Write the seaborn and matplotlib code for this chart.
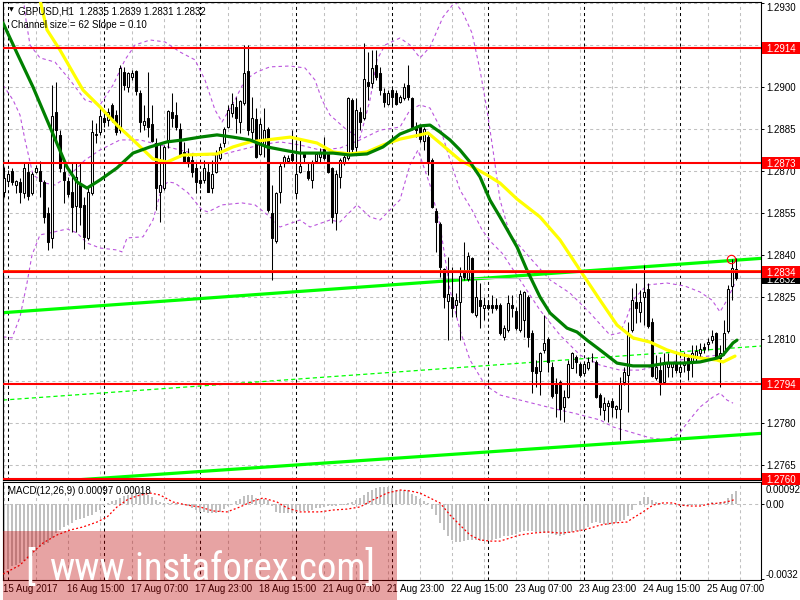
import numpy as np
import matplotlib
matplotlib.use("Agg")
import matplotlib.pyplot as plt
import seaborn as sns
from matplotlib.patches import Rectangle
from matplotlib import font_manager

# ---------------- data ----------------
opens = [
1.28627,1.28666,1.28700,1.28651,1.28661,1.28621,1.28699,1.28621,1.28699,1.28700,
1.28661,1.28550,1.28461,1.28911,1.28830,1.28699,1.28666,1.28627,1.28577,1.28651,
1.28579,1.28461,1.28621,1.28830,1.28839,1.28889,1.28883,1.28937,1.28901,1.28847,
1.29056,1.29002,1.29038,1.29057,1.28978,1.28865,1.28889,1.28868,1.28800,1.28627,
1.28639,1.28812,1.28913,1.28901,1.28850,1.28768,1.28752,1.28741,1.28711,1.28669,
1.28669,1.28699,1.28639,1.28699,1.28746,1.28800,1.28859,1.28909,1.28928,1.28877,
1.28943,1.29059,1.28842,1.28886,1.28762,1.28794,1.28851,1.28552,1.28451,1.28627,
1.28728,1.28738,1.28762,1.28621,1.28699,1.28762,1.28701,1.28669,1.28738,1.28752,
1.28780,1.28762,1.28711,1.28550,1.28680,1.28728,1.28746,1.28955,1.28788,1.28913,
1.28889,1.29020,1.29016,1.29080,1.29050,1.28981,1.28940,1.28990,1.28978,1.28949,
1.28960,1.29008,1.28960,1.28859,1.28862,1.28809,1.28824,1.28740,1.28559,1.28512,
1.28350,1.28238,1.28250,1.28223,1.28232,1.28345,1.28314,1.28389,1.28187,1.28240,
1.28210,1.28223,1.28223,1.28223,1.28223,1.28109,1.28133,1.28223,1.28202,1.28133,
1.28169,1.28250,1.28121,1.28002,1.27988,1.28060,1.28101,1.28002,1.27943,1.27949,
1.27859,1.27895,1.27999,1.28038,1.28012,1.27981,1.27999,1.28036,1.28020,1.27901,
1.27848,1.27862,1.27881,1.27850,1.27850,1.27949,1.27972,1.28133,1.28234,1.28199,
1.28252,1.28278,1.28163,1.27961,1.27991,1.27949,1.28002,1.28002,1.28014,1.27984,
1.28008,1.28032,1.28020,1.28040,1.28050,1.28071,1.28083,1.28098,1.28121,1.28032,
1.28056,1.28131,1.28290,1.28350]
highs = [
1.28716,1.28705,1.28711,1.28670,1.28675,1.28729,1.28729,1.28699,1.28722,1.28735,
1.28669,1.28573,1.29008,1.29020,1.28847,1.28729,1.28681,1.28729,1.28729,1.28729,
1.28609,1.28639,1.28883,1.28871,1.28925,1.28907,1.28925,1.28943,1.28919,1.29080,
1.29074,1.29056,1.29062,1.29062,1.28990,1.28937,1.29056,1.28937,1.28818,1.28800,
1.28794,1.28919,1.28978,1.28949,1.28871,1.28806,1.28782,1.28764,1.28728,1.28693,
1.28740,1.28728,1.28740,1.28776,1.28800,1.28859,1.28937,1.28978,1.28967,1.28954,
1.29151,1.29151,1.28967,1.28925,1.28889,1.28925,1.28859,1.28651,1.28625,1.28728,
1.28758,1.28758,1.28847,1.28812,1.28812,1.28770,1.28734,1.28740,1.28770,1.28782,
1.28822,1.28770,1.28716,1.28705,1.28746,1.28758,1.28967,1.28961,1.28961,1.28931,
1.29157,1.29127,1.29133,1.29133,1.29074,1.28996,1.28990,1.28996,1.28990,1.28972,
1.29014,1.29080,1.28967,1.28877,1.28869,1.28859,1.28836,1.28746,1.28568,1.28520,
1.28353,1.28395,1.28359,1.28264,1.28359,1.28449,1.28413,1.28393,1.28312,1.28300,
1.28252,1.28240,1.28258,1.28246,1.28229,1.28151,1.28258,1.28258,1.28214,1.28276,
1.28274,1.28258,1.28133,1.28026,1.28056,1.28187,1.28109,1.28020,1.27961,1.27955,
1.27919,1.28026,1.28056,1.28044,1.28020,1.28020,1.28038,1.28050,1.28026,1.27907,
1.27895,1.27883,1.27889,1.27865,1.27967,1.28002,1.28163,1.28282,1.28300,1.28276,
1.28365,1.28300,1.28175,1.28044,1.28038,1.28050,1.28050,1.28020,1.28050,1.28014,
1.28056,1.28044,1.28080,1.28080,1.28086,1.28086,1.28103,1.28133,1.28127,1.28080,
1.28169,1.28294,1.28385,1.28390]
lows = [
1.28609,1.28651,1.28651,1.28621,1.28586,1.28604,1.28597,1.28615,1.28695,1.28609,
1.28514,1.28419,1.28425,1.28806,1.28699,1.28588,1.28609,1.28484,1.28484,1.28508,
1.28421,1.28455,1.28615,1.28800,1.28830,1.28859,1.28860,1.28877,1.28830,1.28836,
1.28990,1.28984,1.29026,1.28972,1.28841,1.28847,1.28824,1.28806,1.28562,1.28520,
1.28633,1.28782,1.28859,1.28847,1.28752,1.28728,1.28716,1.28681,1.28621,1.28639,
1.28657,1.28625,1.28621,1.28693,1.28740,1.28788,1.28853,1.28895,1.28836,1.28836,
1.28937,1.28830,1.28812,1.28746,1.28758,1.28752,1.28556,1.28312,1.28445,1.28586,
1.28716,1.28728,1.28728,1.28609,1.28693,1.28734,1.28669,1.28639,1.28728,1.28734,
1.28740,1.28693,1.28514,1.28490,1.28639,1.28722,1.28740,1.28770,1.28770,1.28847,
1.28883,1.28955,1.28996,1.29026,1.28972,1.28931,1.28937,1.28937,1.28937,1.28943,
1.28955,1.28955,1.28847,1.28824,1.28806,1.28776,1.28687,1.28568,1.28413,1.28324,
1.28210,1.28097,1.28181,1.28181,1.28097,1.28312,1.28309,1.28193,1.28181,1.28139,
1.28169,1.28205,1.28193,1.28205,1.28115,1.28097,1.28127,1.28181,1.28133,1.28127,
1.28109,1.28074,1.27909,1.27931,1.27901,1.28050,1.27984,1.27889,1.27824,1.27812,
1.27806,1.27889,1.27996,1.27978,1.27967,1.27978,1.27990,1.28020,1.27889,1.27830,
1.27812,1.27806,1.27824,1.27818,1.27740,1.27937,1.27842,1.28127,1.28157,1.28163,
1.28151,1.28139,1.27967,1.27955,1.27901,1.27943,1.27967,1.27967,1.27979,1.27967,
1.27984,1.27955,1.27967,1.28020,1.28032,1.28050,1.28062,1.28086,1.28032,1.27931,
1.28044,1.28121,1.28240,1.28310]
closes = [
1.28675,1.28690,1.28660,1.28666,1.28627,1.28711,1.28612,1.28690,1.28711,1.28666,
1.28538,1.28449,1.28899,1.28847,1.28711,1.28669,1.28619,1.28571,1.28679,1.28571,
1.28466,1.28627,1.28839,1.28832,1.28899,1.28877,1.28913,1.28889,1.28841,1.29068,
1.29008,1.29050,1.29052,1.28988,1.28877,1.28881,1.28859,1.28809,1.28639,1.28651,
1.28788,1.28916,1.28889,1.28859,1.28762,1.28734,1.28728,1.28699,1.28663,1.28659,
1.28711,1.28627,1.28690,1.28762,1.28788,1.28851,1.28919,1.28940,1.28889,1.28951,
1.29050,1.28847,1.28889,1.28750,1.28868,1.28847,1.28562,1.28461,1.28621,1.28719,
1.28750,1.28749,1.28740,1.28690,1.28719,1.28752,1.28677,1.28728,1.28762,1.28770,
1.28749,1.28699,1.28538,1.28690,1.28740,1.28752,1.28961,1.28778,1.28919,1.28877,
1.29028,1.29005,1.29068,1.29038,1.28990,1.28949,1.28981,1.28967,1.28940,1.28967,
1.29002,1.28964,1.28857,1.28847,1.28814,1.28850,1.28728,1.28571,1.28520,1.28359,
1.28250,1.28262,1.28210,1.28240,1.28326,1.28324,1.28399,1.28199,1.28250,1.28219,
1.28223,1.28210,1.28210,1.28210,1.28121,1.28139,1.28231,1.28211,1.28139,1.28262,
1.28270,1.28109,1.27988,1.27981,1.28050,1.28088,1.28020,1.27899,1.27907,1.27850,
1.27895,1.28012,1.28050,1.28020,1.27972,1.28012,1.28020,1.28037,1.27895,1.27859,
1.27871,1.27874,1.27859,1.27862,1.27943,1.27984,1.28121,1.28240,1.28210,1.28234,
1.28270,1.28148,1.27970,1.28002,1.27943,1.28020,1.28020,1.28014,1.27991,1.28002,
1.28020,1.27991,1.28050,1.28058,1.28065,1.28064,1.28092,1.28112,1.28038,1.28050,
1.28121,1.28280,1.28355,1.28320]

# moving averages (bar index, price)
yellow_i = [8, 9, 10.75, 14, 19.75, 24, 28.25, 32.25, 37.25, 40.75, 44.75, 53.25, 57.25, 61.5,
            71.5, 78.25, 82.25, 86.5, 90.75, 94.75, 99, 104, 106, 109, 114, 120.75, 124, 128.25,
            134, 139, 144, 149, 153.25, 157.25, 161.5, 165.75, 169.75, 174, 178.25, 179.75, 182.75]
yellow_p = [1.29383, 1.29312, 1.29205, 1.29133, 1.28990, 1.28930, 1.28865, 1.28812, 1.28744, 1.28733,
            1.28758, 1.28762, 1.28787, 1.28805, 1.28822, 1.28801, 1.28769, 1.28762, 1.28769, 1.28794,
            1.28815, 1.28830, 1.28837, 1.28801, 1.28740, 1.28687, 1.28658, 1.28601, 1.28537, 1.28455,
            1.28347, 1.28240, 1.28151, 1.28105, 1.28090, 1.28062, 1.28044, 1.28033, 1.28026, 1.28019, 1.28040]
green_i = [-0.25, 3.25, 7.25, 11.5, 15.75, 18.25, 20.75, 24, 28.25, 32.25, 36.5, 40.75, 44.75, 49,
           53.25, 57.25, 61.5, 65.75, 69.75, 74, 78.25, 82.25, 86.5, 90.75, 94.75, 99, 101.5, 104,
           106.5, 109, 111.5, 114, 116.5, 119, 121.5, 124, 128.25, 130.75, 134, 136.5, 140.75, 143.25,
           145.75, 149, 153.25, 157.25, 161.5, 165.75, 169.75, 174, 178.25, 179.75, 182.25, 183.25]
green_p = [1.29230, 1.29122, 1.29001, 1.28858, 1.28715, 1.28662, 1.28640, 1.28669, 1.28712, 1.28765,
           1.28787, 1.28805, 1.28812, 1.28822, 1.28830, 1.28822, 1.28812, 1.28787, 1.28776, 1.28765,
           1.28765, 1.28765, 1.28758, 1.28762, 1.28787, 1.28833, 1.28847, 1.28862, 1.28865, 1.28840,
           1.28812, 1.28776, 1.28733, 1.28680, 1.28597, 1.28537, 1.28430, 1.28347, 1.28251, 1.28194,
           1.28140, 1.28126, 1.28097, 1.28062, 1.28015, 1.28005, 1.28005, 1.28015, 1.28015, 1.28019,
           1.28033, 1.28044, 1.28087, 1.28097]

# Bollinger-type dashed bands (bar index, price)
bb_up_i = [4, 5.5, 6.5, 9, 12.75, 16.5, 20.25, 24, 27.25, 30.25, 32.75, 36.5, 40.25, 44, 47.75, 50.25,
           52.75, 54.5, 57.75, 60.25, 63.25, 66.5, 71.5, 75.25, 77.75, 79.5, 81.5, 85.75, 89, 91.5,
           93.25, 95.25, 99, 101.5, 104, 106.5, 109.75, 112.75, 114.75, 117, 119, 120.75, 122.25, 124,
           126.5, 131.5, 136.5, 141.5, 146.5, 151.5, 154, 155.75, 157.25, 160.75, 165.75, 170.25, 174,
           177, 179, 180.75, 182.75]
bb_up_p = [1.29419, 1.29240, 1.29151, 1.29105, 1.29090, 1.29026, 1.28955, 1.28937, 1.29008, 1.29098,
           1.29151, 1.29169, 1.29162, 1.29126, 1.29098, 1.29026, 1.28919, 1.28876, 1.28955, 1.29026,
           1.29055, 1.29073, 1.29076, 1.29069, 1.29026, 1.28955, 1.28901, 1.28847, 1.28819, 1.28955,
           1.29098, 1.29151, 1.29176, 1.29151, 1.29105, 1.29144, 1.29251, 1.29305, 1.29265, 1.29194,
           1.29062, 1.28919, 1.28776, 1.28598, 1.28473, 1.28391, 1.28312, 1.28265, 1.28194, 1.28115,
           1.28123, 1.28180, 1.28240, 1.28294, 1.28301, 1.28290, 1.28269, 1.28240, 1.28198, 1.28240, 1.28301]
bb_mid_i = [-0.25, 2.25, 4, 5.25, 7.25, 10.25, 12.75, 16.5, 20.25, 24, 29, 34, 39, 44, 49, 54, 59, 64,
            69, 74, 79, 84, 89, 94, 99, 101.5, 104, 106.5, 109, 111.5, 114, 117, 119.5, 122, 124.5,
            129, 134, 139, 144, 149, 154, 159, 164, 169, 174, 179, 182.75]
bb_mid_p = [1.29008, 1.28955, 1.28901, 1.28812, 1.28687, 1.28658, 1.28651, 1.28687, 1.28740, 1.28776,
            1.28812, 1.28812, 1.28794, 1.28776, 1.28758, 1.28758, 1.28776, 1.28794, 1.28805, 1.28794,
            1.28776, 1.28783, 1.28812, 1.28847, 1.28858, 1.28919, 1.28937, 1.28926, 1.28858, 1.28740,
            1.28633, 1.28562, 1.28491, 1.28444, 1.28408, 1.28312, 1.28204, 1.28115, 1.28044, 1.28008,
            1.27990, 1.27990, 1.28008, 1.28026, 1.28037, 1.28044, 1.28080]
bb_lo_i = [-0.25, 2, 4, 5.75, 7, 9, 11.5, 15.75, 18.25, 20.75, 24, 28.25, 29.5, 30.75, 34.75, 37.25,
           39.5, 41, 42.75, 46, 49.5, 51, 54.5, 59.5, 62.75, 66.5, 69, 74, 76.5, 81.5, 84, 88.25, 91.5,
           94, 97.25, 99, 101.5, 103.5, 106.5, 109, 111.5, 114, 116.5, 120.25, 124, 129, 134, 139,
           142.25, 149, 152.25, 157.25, 161.5, 165.75, 169, 170.75, 174, 177.25, 179, 180.75, 182.25]
bb_lo_p = [1.28109, 1.28105, 1.28180, 1.28301, 1.28401, 1.28473, 1.28480, 1.28494, 1.28480, 1.28444,
           1.28426, 1.28419, 1.28412, 1.28462, 1.28466, 1.28526, 1.28644, 1.28662, 1.28658, 1.28623,
           1.28562, 1.28555, 1.28580, 1.28587, 1.28580, 1.28537, 1.28501, 1.28526, 1.28501, 1.28526,
           1.28519, 1.28580, 1.28537, 1.28526, 1.28573, 1.28598, 1.28723, 1.28776, 1.28651, 1.28508,
           1.28276, 1.28133, 1.28026, 1.27937, 1.27901, 1.27883, 1.27865, 1.27847, 1.27837, 1.27812,
           1.27787, 1.27766, 1.27748, 1.27740, 1.27766, 1.27801, 1.27858, 1.27894, 1.27908, 1.27883, 1.27872]

# regression channel (end points)
chan_i = [-0.25, 189.25]
chan_upper = [1.28195, 1.28389]
chan_middle = [1.27883, 1.28076]
chan_lower = [1.27580, 1.27764]

# horizontal levels
red_levels = [1.2914, 1.2873, 1.2834, 1.2794, 1.2760]
ask_level = 1.28349
bid_level = 1.2832
alert_bar, alert_price = 181.7, 1.28385
price_ticks = [1.2930, 1.2915, 1.2900, 1.2885, 1.2870, 1.2855, 1.2840, 1.2825, 1.2810, 1.2795, 1.2780, 1.2765]

# MACD
macd_hist = [
-0.00280,-0.00278,-0.00266,-0.00259,-0.00252,-0.00245,-0.00235,-0.00221,-0.00202,-0.00184,
-0.00174,-0.00167,-0.00146,-0.00125,-0.00110,-0.00099,-0.00089,-0.00082,-0.00071,-0.00065,
-0.00061,-0.00054,-0.00047,-0.00037,-0.00025,-0.00008,0.00003,0.00010,0.00014,0.00024,
0.00034,0.00038,0.00042,0.00045,0.00048,0.00044,0.00035,0.00027,0.00017,0.00007,
0.00003,0.00003,0.00001,0.00003,-0.00003,-0.00007,-0.00011,-0.00018,-0.00027,-0.00034,
-0.00037,-0.00040,-0.00040,-0.00040,-0.00034,-0.00024,-0.00011,-0.00001,0.00010,0.00020,
0.00033,0.00038,0.00035,0.00025,0.00020,0.00020,0.00014,-0.00011,-0.00037,-0.00040,
-0.00040,-0.00040,-0.00040,-0.00037,-0.00033,-0.00033,-0.00033,-0.00025,-0.00020,-0.00018,
-0.00014,-0.00011,-0.00011,-0.00011,-0.00004,-0.00004,0.00003,0.00007,0.00016,0.00024,
0.00038,0.00050,0.00058,0.00067,0.00071,0.00071,0.00071,0.00067,0.00059,0.00059,
0.00059,0.00057,0.00042,0.00031,0.00020,0.00010,0.00003,-0.00023,-0.00047,-0.00082,
-0.00110,-0.00139,-0.00156,-0.00164,-0.00164,-0.00160,-0.00153,-0.00156,-0.00156,-0.00160,
-0.00160,-0.00156,-0.00153,-0.00150,-0.00146,-0.00139,-0.00136,-0.00132,-0.00127,-0.00122,
-0.00118,-0.00118,-0.00118,-0.00122,-0.00122,-0.00125,-0.00125,-0.00127,-0.00132,-0.00136,
-0.00132,-0.00125,-0.00122,-0.00118,-0.00118,-0.00110,-0.00099,-0.00082,-0.00079,-0.00082,
-0.00086,-0.00089,-0.00086,-0.00082,-0.00075,-0.00068,-0.00051,-0.00025,-0.00004,0.00010,
0.00028,0.00028,0.00014,0.00006,0.00003,0.00000,0.00000,0.00000,-0.00004,-0.00011,
-0.00011,-0.00008,-0.00004,-0.00004,-0.00004,-0.00003,0.00003,0.00006,0.00003,0.00006,
0.00008,0.00024,0.00042,0.00052]
signal_i = [-0.25, 4, 6.5, 9.75, 13.25, 16.5, 19.75, 23.25, 25.75, 28.25, 30.75, 33.25, 36.5, 39,
            42.25, 45.75, 49, 52.25, 55.75, 59, 62.25, 64.75, 68.25, 70.75, 74, 79, 82.25, 85.75, 89,
            92.25, 95.75, 99, 101.5, 104, 106.5, 109, 111.5, 114, 116.5, 119, 121.5, 124, 126.5, 129,
            132.25, 135.75, 139, 142.25, 145.75, 149, 152.25, 155.75, 157.25, 159.75, 162.25, 164.75,
            167.25, 169, 171.5, 174, 176.5, 179, 181.5, 182.75]
signal_v = [-0.00299, -0.00261, -0.00218, -0.00167, -0.00133, -0.00112, -0.00099, -0.00078, -0.00057,
            -0.00014, 0.00016, 0.00033, 0.00045, 0.00037, 0.00007, -0.00006, -0.00014, -0.00031,
            -0.00035, -0.00014, 0.00011, 0.00024, 0.00007, -0.00018, -0.00035, -0.00035, -0.00027,
            -0.00023, -0.00014, 0.00016, 0.00045, 0.00058, 0.00054, 0.00045, 0.00024, 0.00003,
            -0.00048, -0.00091, -0.00133, -0.00154, -0.00159, -0.00159, -0.00146, -0.00133, -0.00125,
            -0.00120, -0.00125, -0.00120, -0.00108, -0.00091, -0.00082, -0.00078, -0.00061, -0.00035,
            -0.00006, 0.00003, 0.00003, -0.00006, -0.00010, -0.00010, -0.00001, 0.00003, 0.00011, 0.00018]
macd_ticks = [0.00092, 0.0, -0.0032]
macd_tick_labels = ["0.00092", "0.00", "-0.0032"]

# time axis
date_bars = [0, 16, 32, 48, 64, 80, 96, 112, 128, 144, 160, 176]
date_labels = ["15 Aug 2017", "16 Aug 15:00", "17 Aug 07:00", "17 Aug 23:00", "18 Aug 15:00",
               "21 Aug 07:00", "21 Aug 23:00", "22 Aug 15:00", "23 Aug 07:00", "23 Aug 23:00",
               "24 Aug 15:00", "25 Aug 07:00"]
day_sep_bars = [1, 25, 49, 73, 97, 121, 145, 169]
grid_bars = list(range(0, 190, 8))

title_text = "GBPUSD,H1  1.2835 1.2839 1.2831 1.2832"
channel_text = "Channel size = 62 Slope = 0.10"
macd_text = "MACD(12,26,9) 0.00097 0.00018"

# ---------------- style ----------------
sns.set_theme(style="white")
avail = {f.name for f in font_manager.fontManager.ttflist}
BASE = "Liberation Sans" if "Liberation Sans" in avail else "DejaVu Sans"
plt.rcParams["font.family"] = [BASE, "DejaVu Sans"]
plt.rcParams["lines.scale_dashes"] = False
plt.rcParams["axes.unicode_minus"] = False
narrow = None
for cand in ["Liberation Sans Narrow", "Roboto Condensed", "Open Sans Condensed", "Noto Sans Condensed"]:
    if cand in avail:
        narrow = cand
        break

W, H = 800, 600
fig = plt.figure(figsize=(8, 6), dpi=100)
fig.patch.set_facecolor("white")

def frame(x0, ytop, x1, ybot):
    return [x0 / W, 1 - ybot / H, (x1 - x0) / W, (ybot - ytop) / H]

ax = fig.add_axes(frame(3, 2, 761, 480))
ax2 = fig.add_axes(frame(3, 482, 761, 580))
for a in (ax, ax2):
    a.set_facecolor("white")
    a.set_xlim(-0.25, 189.25)
    for s in a.spines.values():
        s.set_color("black")
        s.set_linewidth(0.8)
ax.set_ylim(1.275975, 1.293046)
ax2.set_ylim(-0.003242, 0.00092)

GRID = "#c0c0c0"
dash = (0, (2.2, 2.2))
for p in price_ticks:
    ax.axhline(p, color=GRID, lw=0.75, ls=dash, zorder=0.5)
for b in grid_bars:
    for a in (ax, ax2):
        a.axvline(b, color=GRID, lw=0.75, ls=dash, zorder=0.5)
for b in day_sep_bars:
    for a in (ax, ax2):
        a.axvline(b, color="black", lw=0.75, ls=dash, zorder=0.6)
ax2.axhline(0, color=GRID, lw=0.75, ls=dash, zorder=0.5)

# bands
BAND = "#bb55dd"
for xi, yp in ((bb_up_i, bb_up_p), (bb_mid_i, bb_mid_p), (bb_lo_i, bb_lo_p)):
    sns.lineplot(x=xi, y=yp, ax=ax, color=BAND, lw=0.8, linestyle=(0, (2.5, 2.2)), zorder=1.5)

# regression channel
sns.lineplot(x=chan_i, y=chan_upper, ax=ax, color="#00ff00", lw=2.3, zorder=2)
sns.lineplot(x=chan_i, y=chan_lower, ax=ax, color="#00ff00", lw=2.3, zorder=2)
sns.lineplot(x=chan_i, y=chan_middle, ax=ax, color="#00ff00", lw=0.9, linestyle=(0, (3, 2.2)), zorder=2)

# candles
xs = np.arange(len(opens))
o = np.array(opens); h = np.array(highs); l = np.array(lows); c = np.array(closes)
up = c >= o
lo_b = np.minimum(o, c)
hgt = np.maximum(np.abs(c - o), 0.000015)
ax.vlines(xs, l, h, color="black", lw=0.75, zorder=3)
ax.bar(xs[up], hgt[up], bottom=lo_b[up], width=0.55, color="white", edgecolor="black", linewidth=0.75, zorder=3.2)
ax.bar(xs[~up], hgt[~up], bottom=lo_b[~up], width=0.55, color="black", edgecolor="black", linewidth=0.75, zorder=3.2)

# moving averages
sns.lineplot(x=yellow_i, y=yellow_p, ax=ax, color="#ffff00", lw=2.3, zorder=4)
sns.lineplot(x=green_i, y=green_p, ax=ax, color="#008000", lw=2.3, zorder=4.1)

# horizontal lines
for p in red_levels:
    ax.axhline(p, color="#ff0000", lw=1.5, zorder=5)
ax.axhline(ask_level, color="#ff3c00", lw=0.7, zorder=5)
ax.axhline(bid_level, color="#c0c0c0", lw=0.8, zorder=2.5)
ax.plot([alert_bar], [alert_price], marker="o", ms=6, mfc="none", mec="#ff0000", mew=0.8, zorder=6)

# MACD
ax2.bar(xs, macd_hist, width=0.72, color="#c0c0c0", linewidth=0, zorder=2)
sns.lineplot(x=signal_i, y=signal_v, ax=ax2, color="#ff0000", lw=0.9, linestyle=(0, (1.4, 1.6)), zorder=3)

# ticks
ax.set_xticks([])
ax.set_yticks(price_ticks)
ax.set_yticklabels([])
ax.yaxis.tick_right()
ax.tick_params(axis="y", length=2.5, width=0.7, color="black", direction="out")
ax2.set_yticks(macd_ticks)
ax2.set_yticklabels([])
ax2.yaxis.tick_right()
ax2.tick_params(axis="y", length=2.5, width=0.7, color="black", direction="out")
ax2.set_xticks(date_bars)
ax2.set_xticklabels([])
ax2.tick_params(axis="x", length=2.5, width=0.7, color="black", direction="out")
for a in (ax, ax2):
    a.set_xlabel("")
    a.set_ylabel("")
    leg = a.get_legend()
    if leg:
        leg.remove()

def yfig(a, v):
    return a.transData.transform((0, v))[1] / fig.bbox.height

def xfig(a, v):
    return a.transData.transform((v, 0))[0] / fig.bbox.width

FS = 7
for p in price_ticks:
    # labels fully covered by a level box in the reference are not visible there either
    if any(abs(p - r) < 0.00025 for r in red_levels):
        continue
    yf = min(yfig(ax, p), 1 - 7 / H)
    fig.text(766 / W, yf, f"{p:.4f}", ha="left", va="center_baseline", fontsize=FS, color="black", zorder=5)

def price_box(p, fc, z, dy=0.0):
    yf = yfig(ax, p)
    fig.add_artist(Rectangle((762 / W, yf - 6 / H), 38 / W, 12 / H, transform=fig.transFigure,
                             facecolor=fc, edgecolor="none", zorder=z))
    fig.text(766 / W, yf + dy / H, f"{p:.4f}", ha="left", va="center_baseline", fontsize=FS, color="white", zorder=z + 0.5)

price_box(bid_level, "black", 6, dy=-1.5)
for p in red_levels:
    price_box(p, "#ff0000", 7)

offs = [-7, 0, 5]
for v, lab, off in zip(macd_ticks, macd_tick_labels, offs):
    fig.text(766 / W, yfig(ax2, v) + off / H, lab, ha="left", va="center_baseline", fontsize=FS, color="black", zorder=5)

for b, lab in zip(date_bars, date_labels):
    fig.text(xfig(ax2, b) - 1 / W, 12 / H, lab, ha="left", va="center_baseline", fontsize=FS, color="black", zorder=5)

fig.text(9 / W, 1 - 10 / H, "\u25bc", ha="left", va="center", fontsize=4.5, color="black", family="DejaVu Sans", zorder=10)
fig.text(18 / W, 1 - 10 / H, title_text, ha="left", va="center_baseline", fontsize=FS, color="black", zorder=10)
fig.text(11 / W, 1 - 23.5 / H, channel_text, ha="left", va="center_baseline", fontsize=FS, color="black", zorder=10)
fig.text(8 / W, 1 - 490.5 / H, macd_text, ha="left", va="center_baseline", fontsize=FS, color="black", zorder=10)

# watermark
fig.add_artist(Rectangle((3 / W, 0), 394 / W, 69 / H, transform=fig.transFigure,
                         facecolor=(0.75, 0.0, 0.0, 0.36), edgecolor="none", zorder=20))
wm_kw = dict(color="white", zorder=21, va="baseline")
if narrow:
    wm_kw["family"] = narrow
else:
    wm_kw["family"] = "DejaVu Sans"
    wm_kw["fontstretch"] = "condensed"
wm = fig.text(207 / W, 1 - 580 / H, "www.instaforex.com", ha="center", fontsize=30, **wm_kw)
renderer = fig.canvas.get_renderer()
wbox = wm.get_window_extent(renderer)
fs = 30 * 316 / wbox.width
wm.set_fontsize(fs)
fig.text(25 / W, 1 - 580 / H, "[", ha="left", fontsize=fs * 1.05, **wm_kw)
fig.text(375 / W, 1 - 580 / H, "]", ha="right", fontsize=fs * 1.05, **wm_kw)

fig.savefig("out.png", dpi=100)
